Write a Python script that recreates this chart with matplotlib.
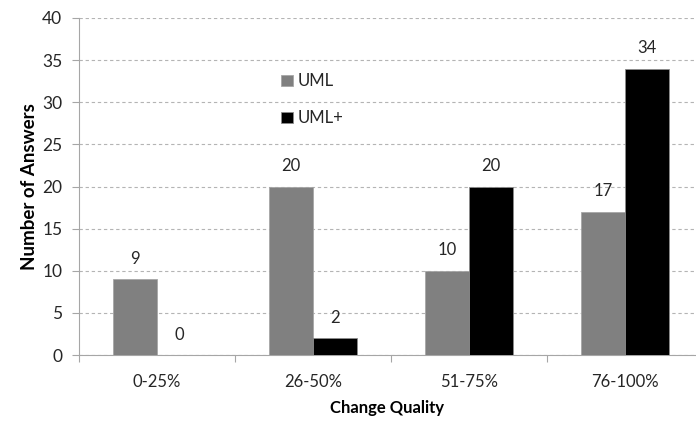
import matplotlib
matplotlib.use("Agg")
import matplotlib.pyplot as plt
import numpy as np

categories = ["0-25%", "26-50%", "51-75%", "76-100%"]
uml = [9, 20, 10, 17]
uml_plus = [0, 2, 20, 34]
series_names = ["UML", "UML+"]
y_ticks = [0, 5, 10, 15, 20, 25, 30, 35, 40]

plt.rcParams["font.family"] = ["Lato", "DejaVu Sans"]

fig = plt.figure(figsize=(6.96, 4.28), dpi=100)
ax = fig.add_axes([79 / 696, 73 / 428, 617 / 696, 337 / 428])

x = np.arange(len(categories))
w = 0.28
b1 = ax.bar(x - w / 2, uml, width=w, color="#808080", edgecolor="#a6a6a6",
            linewidth=0.6, label=series_names[0], zorder=3)
b2 = ax.bar(x + w / 2, uml_plus, width=w, color="#000000", edgecolor="#8c8c8c",
            linewidth=0.6, label=series_names[1], zorder=3)

for bars, vals in ((b1, uml), (b2, uml_plus)):
    for rect, v in zip(bars, vals):
        ax.annotate(str(v), (rect.get_x() + rect.get_width() / 2, v),
                    xytext=(0, 9), textcoords="offset points",
                    ha="center", va="bottom", fontsize=12, color="#262626")

ax.set_ylim(0, 40)
ax.set_xlim(-0.5, 3.455)
ax.set_yticks(y_ticks)
ax.yaxis.grid(True, linestyle=(0, (3, 2.5)), color="#b4b4b4", linewidth=0.8, zorder=0)
ax.set_axisbelow(True)

# category boundaries carry the tick marks; labels sit at the centres
ax.set_xticks([-0.5, 0.5, 1.5, 2.5])
ax.set_xticklabels([])
ax.set_xticks(x, minor=True)
ax.set_xticklabels(categories, minor=True)
ax.tick_params(axis="x", which="minor", length=0, pad=14, labelsize=12, labelcolor="#262626")
ax.tick_params(axis="x", which="major", length=5, width=0.8, color="#a6a6a6")
ax.tick_params(axis="y", length=5, width=0.8, color="#a6a6a6", labelsize=12.5,
               labelcolor="#262626", pad=7)

for side in ("top", "right"):
    ax.spines[side].set_visible(False)
for side in ("left", "bottom"):
    ax.spines[side].set_color("#a6a6a6")
    ax.spines[side].set_linewidth(0.8)

ax.set_xlabel("Change Quality", fontsize=12, fontweight="bold", labelpad=7)
ax.set_ylabel("Number of Answers", fontsize=13.5, fontweight="bold", labelpad=3)

leg = ax.legend(loc="upper left", bbox_to_anchor=(0.303, 0.88), frameon=False,
                fontsize=12, handlelength=0.7, handleheight=0.7, handletextpad=0.3,
                labelspacing=1.25)
for t in leg.get_texts():
    t.set_color("#262626")

fig.savefig("out.png", dpi=100)
